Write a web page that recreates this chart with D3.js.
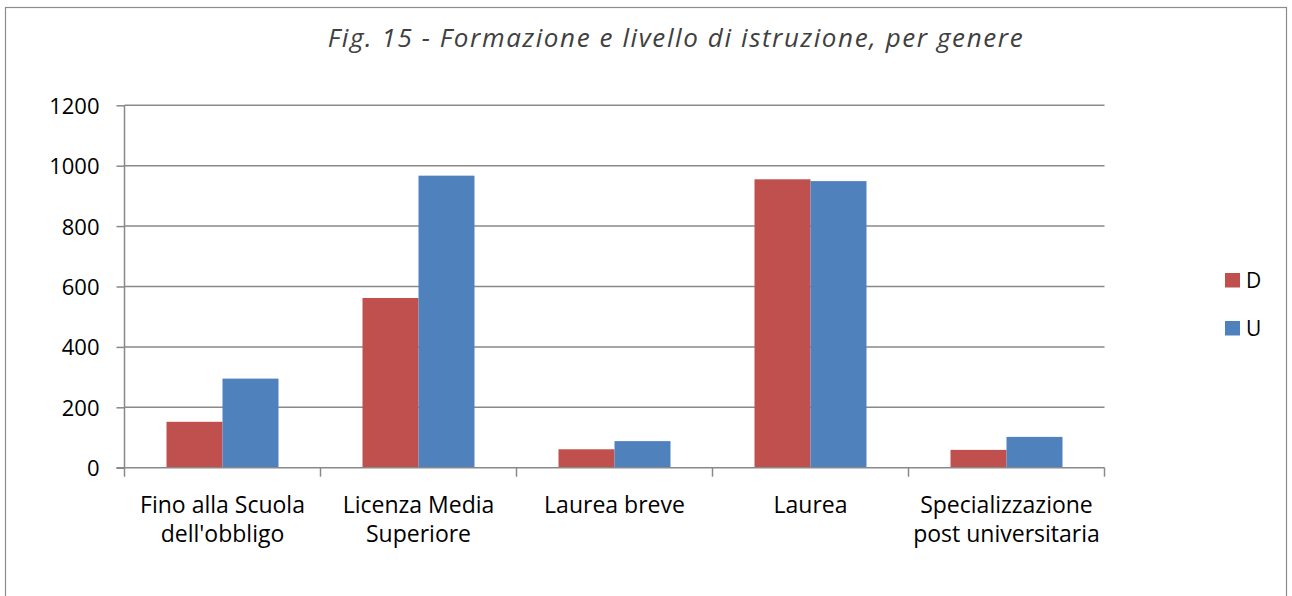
<!DOCTYPE html>
<html>
<head>
<meta charset="utf-8">
<script src="https://cdn.jsdelivr.net/npm/d3@7"></script>
<style>
  html, body { margin: 0; padding: 0; background: #fff; }
  svg { display: block; }
</style>
</head>
<body>
<svg id="chart" width="1292" height="596"></svg>
<script>
const categories = [
  ["Fino alla Scuola", "dell'obbligo"],
  ["Licenza Media", "Superiore"],
  ["Laurea breve"],
  ["Laurea"],
  ["Specializzazione", "post universitaria"]
];
const seriesNames = ["D", "U"];
const valuesD = [152, 562, 61, 955, 59];
const valuesU = [295, 967, 88, 949, 102];
const yTicks = [0, 200, 400, 600, 800, 1000, 1200];
const colors = ["#C0504D", "#4F81BD"];
const title = "Fig. 15 - Formazione e livello di istruzione, per genere";

(function () {
const svg = d3.select("#chart");
const font = "'Open Sans', sans-serif";
const pLeft = 124.5, pRight = 1104.5, pTop = 105.3, pBottom = 467.7;

// outer border
svg.append("rect").attr("x", 5.5).attr("y", 7.5).attr("width", 1281).attr("height", 600)
  .attr("fill", "#fff").attr("stroke", "#8c8c8c").attr("stroke-width", 1.2);

const catKeys = categories.map((c, i) => i);
const x0 = d3.scaleBand().domain(catKeys).range([pLeft, pRight]).padding(0);
const x1 = d3.scaleBand().domain(seriesNames).range([0, x0.bandwidth()]).paddingInner(0).paddingOuter(0.75);
const y = d3.scaleLinear().domain([0, 1200]).range([pBottom, pTop]);

// gridlines
svg.append("g").selectAll("line").data(yTicks.filter(d => d > 0)).join("line")
  .attr("x1", pLeft).attr("x2", pRight)
  .attr("y1", d => y(d)).attr("y2", d => y(d))
  .attr("stroke", "#898989").attr("stroke-width", 1.5);

// bars
const data = categories.map((c, i) => ({ i, vals: [valuesD[i], valuesU[i]] }));
const g = svg.append("g");
data.forEach(d => {
  seriesNames.forEach((s, k) => {
    g.append("rect")
      .attr("x", x0(d.i) + x1(s))
      .attr("y", y(d.vals[k]))
      .attr("width", x1.bandwidth())
      .attr("height", y(0) - y(d.vals[k]))
      .attr("fill", colors[k]);
  });
});

// y axis
const yAxis = d3.axisLeft(y).tickValues(yTicks).tickFormat(d3.format("d")).tickSize(8).tickPadding(17);
const ya = svg.append("g").attr("transform", `translate(${pLeft},0)`).call(yAxis);
ya.select(".domain").attr("stroke", "#898989").attr("stroke-width", 1.5).attr("d", `M0,${pTop}V${pBottom}`);
ya.selectAll(".tick line").attr("stroke", "#898989").attr("stroke-width", 1.5);
ya.selectAll(".tick text").attr("font-family", font).attr("font-size", 22).attr("fill", "#000")
  .attr("dy", "0.36em");

// x axis
const xTickPos = d3.range(categories.length + 1).map(i => pLeft + i * x0.step());
const xa = svg.append("g");
xa.append("line").attr("x1", pLeft - 8).attr("x2", pRight).attr("y1", pBottom).attr("y2", pBottom)
  .attr("stroke", "#898989").attr("stroke-width", 1.5);
xa.selectAll("line.t").data(xTickPos).join("line").attr("class", "t")
  .attr("x1", d => d).attr("x2", d => d).attr("y1", pBottom).attr("y2", pBottom + 9)
  .attr("stroke", "#898989").attr("stroke-width", 1.5);
data.forEach(d => {
  const t = xa.append("text").attr("text-anchor", "middle")
    .attr("font-family", font).attr("font-size", 23).attr("fill", "#000");
  categories[d.i].forEach((line, j) => {
    t.append("tspan").attr("x", x0(d.i) + x0.bandwidth() / 2).attr("y", 513 + j * 29).text(line);
  });
});

// title
svg.append("text").attr("x", 676).attr("y", 46.5).attr("text-anchor", "middle")
  .attr("font-family", font).attr("font-style", "italic").attr("font-size", 26)
  .attr("letter-spacing", 1.6)
  .attr("fill", "#404040").text(title);

// legend
const lg = svg.append("g");
seriesNames.forEach((s, k) => {
  lg.append("rect").attr("x", 1225).attr("y", 273 + k * 48).attr("width", 15).attr("height", 14.5).attr("fill", colors[k]);
  lg.append("text").attr("x", 1246).attr("y", 287.5 + k * 48).attr("font-family", font)
    .attr("font-size", 21).attr("fill", "#000").text(s);
});
})();
</script>
</body>
</html>
